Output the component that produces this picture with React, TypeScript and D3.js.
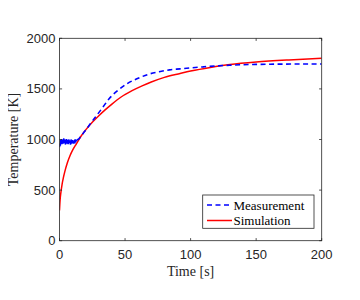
import React from "react";
import * as d3 from "d3";

const simT = [0, 0.5, 1, 2, 3, 4, 6, 8, 10, 13, 16, 20, 25, 30, 35, 40, 47, 55, 63, 70, 80, 92, 100, 115, 130, 150, 175, 200];
const simV = [300, 410, 470, 560, 625, 680, 770, 840, 895, 960, 1025, 1095, 1170, 1235, 1295, 1350, 1420, 1480, 1530, 1568, 1614, 1652, 1676, 1712, 1740, 1765, 1786, 1802];

const measT = [0, 0.3, 0.6, 0.9, 1.2, 1.5, 1.8, 2.1, 2.4, 2.7, 3, 3.3, 3.6, 3.9, 4.2, 4.5, 4.8, 5.1, 5.4, 5.7, 6, 6.3, 6.6, 6.9, 7.2, 7.5, 7.8, 8.1, 8.4, 8.7, 9, 9.3, 9.6, 9.9, 10.2, 10.5, 10.8, 11.1, 11.4, 11.7, 12, 12.3, 12.6, 13, 14, 15, 16.5, 18, 19.5, 21, 24, 27, 32, 38, 45, 52, 60, 68, 76, 84, 92, 100, 110, 120, 130, 140, 150, 170, 200];
const measV = [925, 960, 940, 995, 970, 1005, 955, 985, 1000, 960, 990, 1010, 965, 975, 1000, 950, 990, 970, 1005, 960, 985, 995, 955, 980, 1000, 965, 975, 990, 950, 985, 1000, 960, 975, 995, 970, 985, 960, 990, 975, 1000, 980, 990, 985, 995, 1000, 1010, 1035, 1060, 1085, 1110, 1165, 1215, 1300, 1405, 1490, 1555, 1605, 1645, 1670, 1688, 1698, 1708, 1718, 1727, 1734, 1739, 1742, 1745, 1746];

const xTicks = [0, 50, 100, 150, 200];
const yTicks = [0, 500, 1000, 1500, 2000];

const W = 360, H = 300;
const L = 59.5, R = 321.7, T = 38.3, B = 240.7;

export default function App() {
  const x = d3.scaleLinear().domain([0, 200]).range([L, R]);
  const y = d3.scaleLinear().domain([0, 2000]).range([B, T]);
  const line = d3.line<[number, number]>().x(d => x(d[0])).y(d => y(d[1])).curve(d3.curveMonotoneX);
  const simPath = line(simT.map((t, i) => [t, simV[i]]) as [number, number][]) || "";
  const measLine = d3.line<[number, number]>().x(d => x(d[0])).y(d => y(d[1]));
  const measPts = measT.map((t, i) => [t, measV[i]]) as [number, number][];
  const noisy = measPts.filter(p => p[0] <= 13);
  const smooth = measPts.filter(p => p[0] >= 13);
  const smoothPath = d3.line<[number, number]>().x(d => x(d[0])).y(d => y(d[1])).curve(d3.curveMonotoneX)(smooth) || "";
  const noisyPath = measLine(noisy) || "";
  const tickCol = "#262626";
  const tickFont = "'Liberation Sans', Arial, sans-serif";
  const serif = "'Liberation Serif', 'Times New Roman', serif";
  const tl = 2.6;
  return (
    <div style={{ margin: -8 }}>
      <svg width={W} height={H} style={{ display: "block", background: "#fff" }}>
        <rect x={0} y={0} width={W} height={H} fill="#fff" />
        <defs>
          <clipPath id="clip">
            <rect x={L} y={T} width={R - L} height={B - T} />
          </clipPath>
        </defs>
        <g clipPath="url(#clip)">
          <path d={simPath} fill="none" stroke="#ff0000" strokeWidth={1.5} />
          <path d={noisyPath} fill="none" stroke="#0000ff" strokeWidth={1.6} />
          <path d={smoothPath} fill="none" stroke="#0000ff" strokeWidth={1.6} strokeDasharray="5,3.5" />
        </g>
        <rect x={L} y={T} width={R - L} height={B - T} fill="none" stroke={tickCol} strokeWidth={0.8} />
        {xTicks.map(t => (
          <g key={"x" + t}>
            <line x1={x(t)} x2={x(t)} y1={B} y2={B - tl} stroke={tickCol} strokeWidth={0.8} />
            <line x1={x(t)} x2={x(t)} y1={T} y2={T + tl} stroke={tickCol} strokeWidth={0.8} />
            <text x={x(t)} y={B + 18} textAnchor="middle" fontFamily={tickFont} fontSize={13} fill={tickCol}>{t}</text>
          </g>
        ))}
        {yTicks.map(t => (
          <g key={"y" + t}>
            <line x1={L} x2={L + tl} y1={y(t)} y2={y(t)} stroke={tickCol} strokeWidth={0.8} />
            <line x1={R} x2={R - tl} y1={y(t)} y2={y(t)} stroke={tickCol} strokeWidth={0.8} />
            <text x={L - 4} y={y(t) + 4.5} textAnchor="end" fontFamily={tickFont} fontSize={13} fill={tickCol}>{t}</text>
          </g>
        ))}
        <text x={(L + R) / 2} y={276} textAnchor="middle" fontFamily={serif} fontSize={14} fill={tickCol}>Time [s]</text>
        <text transform={`translate(18,${(T + B) / 2}) rotate(-90)`} textAnchor="middle" fontFamily={serif} fontSize={14} fill={tickCol}>Temperature [K]</text>
        <g>
          <rect x={202.7} y={195} width={111.3} height={33.3} fill="#fff" stroke={tickCol} strokeWidth={0.8} />
          <line x1={207} x2={232} y1={205} y2={205} stroke="#0000ff" strokeWidth={1.6} strokeDasharray="5,3.5" />
          <text x={233.5} y={209.5} fontFamily={serif} fontSize={13} fill="#000">Measurement</text>
          <line x1={207} x2={232} y1={220.5} y2={220.5} stroke="#ff0000" strokeWidth={1.5} />
          <text x={233.5} y={225} fontFamily={serif} fontSize={13} fill="#000">Simulation</text>
        </g>
      </svg>
    </div>
  );
}
